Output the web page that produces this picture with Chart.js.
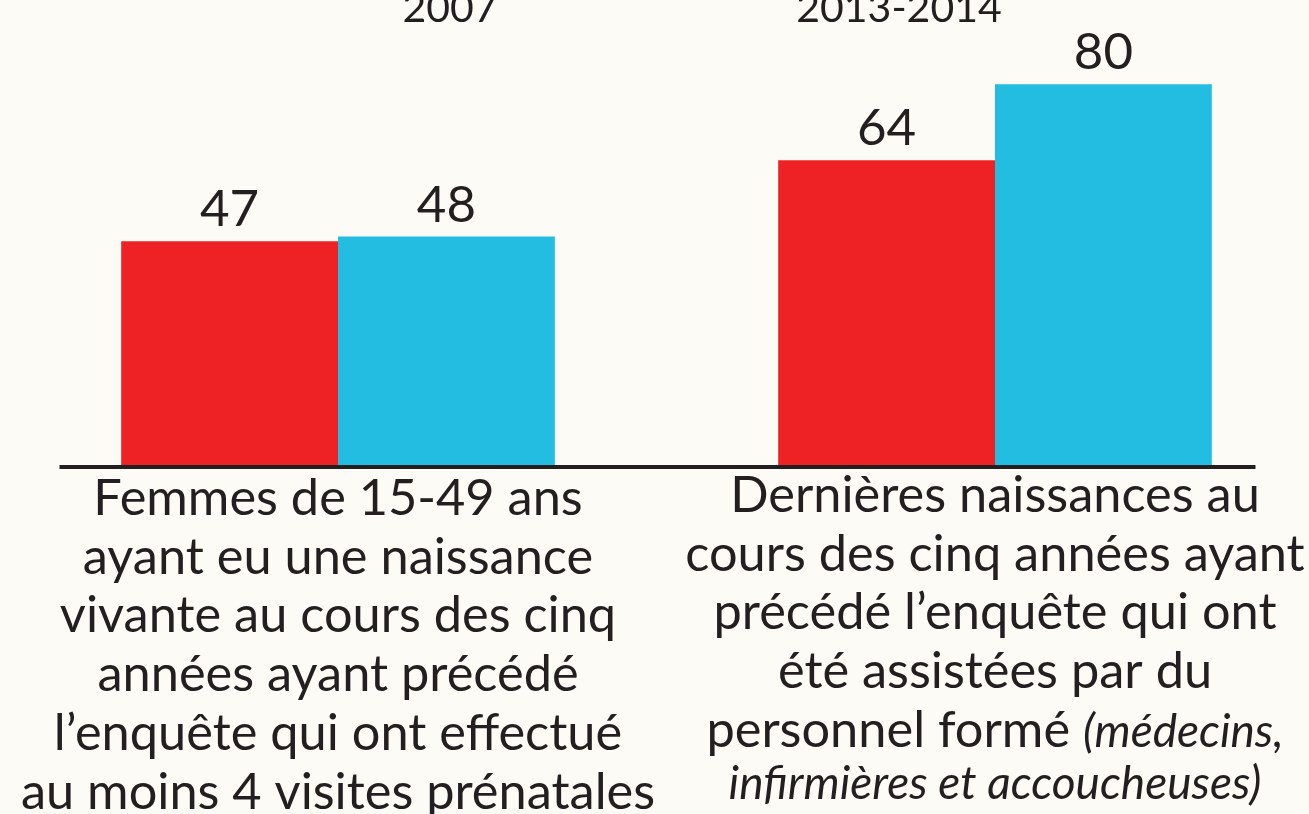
<!DOCTYPE html>
<html>
<head>
<meta charset="utf-8">
<script src="https://cdn.jsdelivr.net/npm/chart.js@4"></script>
<style>
  body { margin: 0; background: #fdfbf6; overflow: hidden; }
  #wrap { position: absolute; left: 0; top: 0; width: 1330px; height: 814px; }
</style>
</head>
<body>
<div id="wrap"><canvas id="chart"></canvas></div>
<script>
// data
var seriesNames = ['2007', '2013-2014'];
var values2007 = [47, 64];
var values2014 = [48, 80];
var categories = [
    ['Femmes de 15-49 ans',
     'ayant eu une naissance',
     'vivante au cours des cinq',
     'années ayant précédé',
     'l’enquête qui ont effectué',
     'au moins 4 visites prénatales'],
    ['Dernières naissances au',
     'cours des cinq années ayant',
     'précédé l’enquête qui ont',
     'été assistées par du',
     'personnel formé']
];
var categoryNotes = [
    [],
    ['(médecins,', 'infirmières et accoucheuses)']
];

var TEXT = '#231f20';
var FONT = 'Lato, "Open Sans", sans-serif';

var labelsPlugin = {
    id: 'labels',
    afterDatasetsDraw: function(chart)
    {
        var ctx = chart.ctx;
        var xs = chart.scales.x;
        var ys = chart.scales.y;
        var base = ys.getPixelForValue(0);

        ctx.save();

        // baseline
        ctx.strokeStyle = TEXT;
        ctx.lineWidth = 4;
        ctx.beginPath();
        ctx.moveTo(chart.chartArea.left + 50, base + 2);
        ctx.lineTo(chart.chartArea.right - 68, base + 2);
        ctx.stroke();

        ctx.fillStyle = TEXT;
        ctx.textAlign = 'center';
        ctx.textBaseline = 'alphabetic';

        // values above the bars
        ctx.font = '51px ' + FONT;
        chart.data.datasets.forEach(function(ds, d)
        {
            chart.getDatasetMeta(d).data.forEach(function(bar, i)
            {
                ctx.fillText(ds.data[i], bar.x, bar.y - 15);
            });
        });

        // series names at the top (cut off)
        ctx.font = '41px ' + FONT;
        ctx.fillText(seriesNames[0], 450, 22);
        ctx.fillText(seriesNames[1], 899, 22);

        // category texts under the axis
        var lh = 58.7;
        categories.forEach(function(lines, i)
        {
            var cx = xs.getPixelForValue(i);
            var y0 = base + (i == 0 ? 50 : 47);
            var notes = categoryNotes[i];
            lines.forEach(function(line, k)
            {
                var y = y0 + k * lh;
                if (k == lines.length - 1 && notes.length)
                {
                    ctx.font = '50.5px ' + FONT;
                    var w1 = ctx.measureText(line + ' ').width;
                    ctx.font = 'italic 46px ' + FONT;
                    var w2 = ctx.measureText(notes[0]).width;
                    var x = cx - (w1 + w2) / 2;
                    ctx.textAlign = 'left';
                    ctx.font = '50.5px ' + FONT;
                    ctx.fillText(line + ' ', x, y);
                    ctx.font = 'italic 46px ' + FONT;
                    ctx.fillText(notes[0], x + w1, y);
                    ctx.textAlign = 'center';
                    for (var n = 1; n < notes.length; n++)
                        ctx.fillText(notes[n], cx, y + n * 52);
                }
                else
                {
                    ctx.font = '50.5px ' + FONT;
                    ctx.fillText(line, cx, y);
                }
            });
        });

        ctx.restore();
    }
};

var ctx = document.getElementById('chart').getContext('2d');
var myBarChart = new Chart(ctx, {
    type: 'bar',
    data: {
        labels: categories,
        datasets: [
            { label: seriesNames[0], data: values2007, backgroundColor: '#ee2224' },
            { label: seriesNames[1], data: values2014, backgroundColor: '#22bde0' }
        ]
    },
    options: {
        responsive: true,
        maintainAspectRatio: false,
        animation: false,
        barPercentage: 1,
        categoryPercentage: 0.66,
        layout: { padding: { left: 9.5, right: 6.5, top: 36.6, bottom: 349 } },
        plugins: { legend: { display: false }, tooltip: { enabled: false } },
        scales: {
            x: { display: false },
            y: { display: false, min: 0, max: 90 }
        }
    },
    plugins: [labelsPlugin]
});
</script>
</body>
</html>
